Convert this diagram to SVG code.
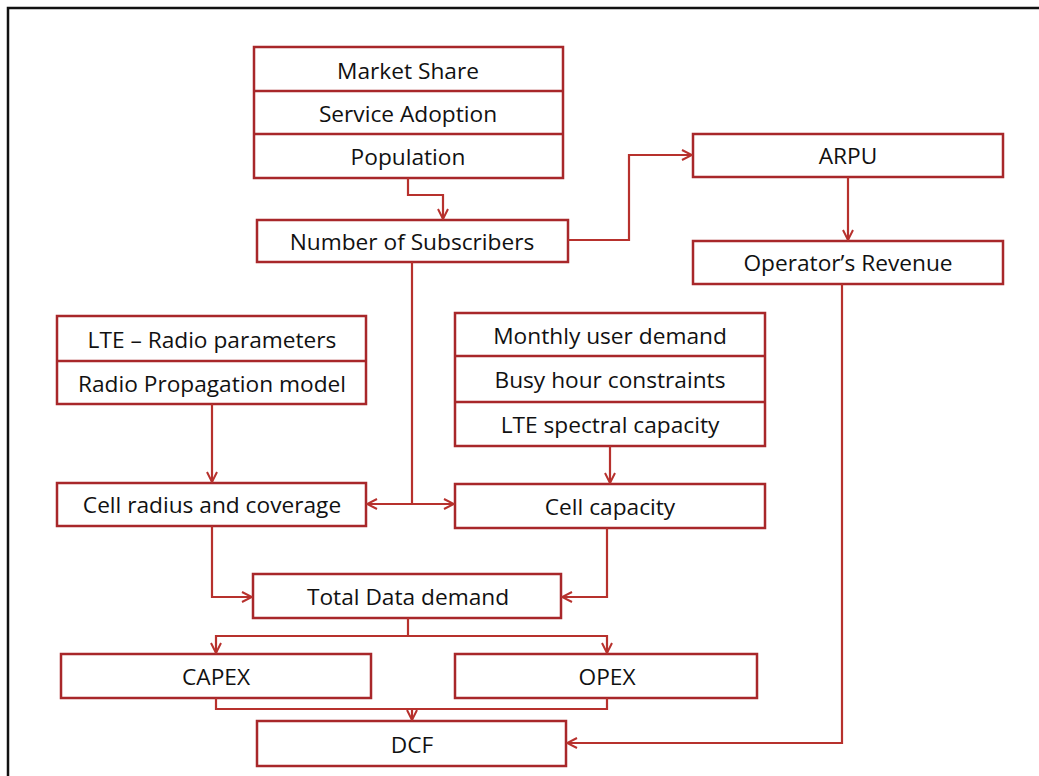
<svg xmlns="http://www.w3.org/2000/svg" width="1039" height="776" viewBox="0 0 1039 776">
  <style>
    .box { fill: #ffffff; stroke: #a8272a; stroke-width: 2.5; }
    .div { stroke: #a8272a; stroke-width: 2.5; }
    .lbl { font-family: "Open Sans", Lato, "Liberation Sans", sans-serif; font-size: 22.7px; fill: #111111; text-anchor: middle; }
    .wire { fill: none; stroke: #b7312d; stroke-width: 2.2; }
    .arrow { fill: none; stroke: #b7312d; stroke-width: 2.2; marker-end: url(#head); }
  </style>
  <defs>
    <marker id="head" viewBox="0 0 12 12" refX="11" refY="6" markerWidth="12" markerHeight="12" markerUnits="userSpaceOnUse" orient="auto">
      <path d="M1,1 L11,6 L1,11" fill="none" stroke="#b7312d" stroke-width="2"/>
    </marker>
  </defs>

  <rect width="1039" height="776" fill="#ffffff"/>
  <!-- outer frame -->
  <path d="M8,776 V8 H1039" fill="none" stroke="#111111" stroke-width="2.5"/>

  <!-- market inputs stack -->
  <g id="market-inputs">
    <rect class="box" x="254" y="47" width="309" height="131"/>
    <line class="div" x1="254" y1="91" x2="563" y2="91"/>
    <line class="div" x1="254" y1="134" x2="563" y2="134"/>
    <text class="lbl" x="408" y="79">Market Share</text>
    <text class="lbl" x="408" y="122">Service Adoption</text>
    <text class="lbl" x="408" y="165">Population</text>
  </g>

  <g id="subscribers">
    <rect class="box" x="257" y="220" width="311" height="42"/>
    <text class="lbl" x="412" y="250">Number of Subscribers</text>
  </g>

  <g id="arpu">
    <rect class="box" x="693" y="134" width="310" height="43"/>
    <text class="lbl" x="848" y="164">ARPU</text>
  </g>

  <g id="revenue">
    <rect class="box" x="693" y="241" width="310" height="43"/>
    <text class="lbl" x="848" y="271">Operator’s Revenue</text>
  </g>

  <g id="radio-inputs">
    <rect class="box" x="57" y="316" width="309" height="88"/>
    <line class="div" x1="57" y1="361" x2="366" y2="361"/>
    <text class="lbl" x="212" y="348">LTE – Radio parameters</text>
    <text class="lbl" x="212" y="392">Radio Propagation model</text>
  </g>

  <g id="demand-inputs">
    <rect class="box" x="455" y="313" width="310" height="133"/>
    <line class="div" x1="455" y1="356" x2="765" y2="356"/>
    <line class="div" x1="455" y1="402" x2="765" y2="402"/>
    <text class="lbl" x="610" y="344">Monthly user demand</text>
    <text class="lbl" x="610" y="388">Busy hour constraints</text>
    <text class="lbl" x="610" y="433">LTE spectral capacity</text>
  </g>

  <g id="cell-radius">
    <rect class="box" x="57" y="483" width="309" height="43"/>
    <text class="lbl" x="212" y="513">Cell radius and coverage</text>
  </g>

  <g id="cell-capacity">
    <rect class="box" x="455" y="484" width="310" height="44"/>
    <text class="lbl" x="610" y="515">Cell capacity</text>
  </g>

  <g id="total-demand">
    <rect class="box" x="253" y="574" width="308" height="44"/>
    <text class="lbl" x="408" y="605">Total Data demand</text>
  </g>

  <g id="capex">
    <rect class="box" x="61" y="654" width="310" height="44"/>
    <text class="lbl" x="216" y="685">CAPEX</text>
  </g>

  <g id="opex">
    <rect class="box" x="455" y="654" width="302" height="44"/>
    <text class="lbl" x="607" y="685">OPEX</text>
  </g>

  <g id="dcf">
    <rect class="box" x="257" y="721" width="309" height="45"/>
    <text class="lbl" x="412" y="753">DCF</text>
  </g>

  <g id="connectors">
    <path class="arrow" d="M408,178 V195 H443 V219"/>
    <path class="arrow" d="M568,240 H629 V155 H692"/>
    <path class="arrow" d="M848,177 V240"/>
    <path class="arrow" d="M212,404 V482"/>
    <path class="arrow" d="M610,446 V483"/>
    <path class="wire" d="M412,262 V504"/>
    <path class="arrow" d="M412,504 H367"/>
    <path class="arrow" d="M412,504 H454"/>
    <path class="arrow" d="M212,526 V597 H252"/>
    <path class="arrow" d="M607,528 V597 H562"/>
    <path class="wire" d="M408,618 V636"/>
    <path class="arrow" d="M408,636 H216 V653"/>
    <path class="arrow" d="M408,636 H607 V653"/>
    <path class="wire" d="M216,698 V709 H607 V698"/>
    <path class="arrow" d="M412,709 V720"/>
    <path class="arrow" d="M842,284 V743 H567"/>
  </g>
</svg>
